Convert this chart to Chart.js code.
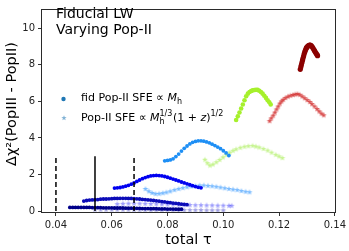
<!DOCTYPE html>
<html><head><meta charset="utf-8">
<script src="https://cdn.jsdelivr.net/npm/chart.js@4/dist/chart.umd.min.js"></script>
<style>html,body{margin:0;padding:0;background:#fff;}</style>
</head><body>
<canvas id="c" width="349" height="251"></canvas>
<script>
// ---- data ----
const xTicks = [0.04, 0.06, 0.08, 0.10, 0.12, 0.14];
const yTicks = [0, 2, 4, 6, 8, 10];
const tauRefLines = [0.040, 0.054, 0.068];
const refLineTop = 3;

// fiducial Pop-II SFE (circles)
const tauC1 = [0.045,0.046,0.047,0.048,0.049,0.050,0.051,0.052,0.053,0.054,0.055,0.056,0.057,0.058,0.059,0.060,0.061,0.062,0.063,0.064,0.065,0.066,0.067,0.068,0.069,0.070,0.071,0.072,0.073,0.074,0.075,0.076,0.077,0.078,0.079,0.080,0.081,0.082,0.083,0.084,0.085];
const chiC1 = [0.20,0.20,0.20,0.20,0.20,0.20,0.20,0.20,0.19,0.19,0.19,0.19,0.18,0.18,0.18,0.18,0.17,0.17,0.17,0.17,0.16,0.16,0.16,0.15,0.15,0.15,0.14,0.14,0.14,0.13,0.13,0.13,0.12,0.12,0.12,0.11,0.11,0.11,0.10,0.10,0.10];
const tauC2 = [0.050,0.051,0.052,0.053,0.054,0.055,0.056,0.057,0.058,0.059,0.060,0.061,0.062,0.063,0.064,0.065,0.066,0.067,0.068,0.069,0.070,0.071,0.072,0.073,0.074,0.075,0.076,0.077,0.078,0.079,0.080,0.081,0.082,0.083,0.084,0.085,0.086,0.087];
const chiC2 = [0.55,0.58,0.60,0.61,0.62,0.63,0.65,0.66,0.66,0.67,0.68,0.69,0.69,0.70,0.70,0.70,0.69,0.69,0.68,0.67,0.66,0.64,0.63,0.61,0.60,0.58,0.56,0.54,0.52,0.50,0.48,0.46,0.44,0.42,0.40,0.38,0.37,0.35];
const tauC3 = [0.061,0.062,0.063,0.064,0.065,0.066,0.067,0.068,0.069,0.070,0.071,0.072,0.073,0.074,0.075,0.076,0.077,0.078,0.079,0.080,0.081,0.082,0.083,0.084,0.085,0.086,0.087,0.088,0.089,0.090,0.091,0.092];
const chiC3 = [1.26,1.27,1.29,1.32,1.36,1.41,1.47,1.54,1.62,1.70,1.77,1.83,1.88,1.92,1.94,1.95,1.94,1.92,1.89,1.85,1.80,1.75,1.70,1.65,1.59,1.54,1.49,1.44,1.39,1.34,1.30,1.27];
const tauC4 = [0.079,0.080,0.081,0.082,0.083,0.084,0.085,0.086,0.087,0.088,0.089,0.090,0.091,0.092,0.093,0.094,0.095,0.096,0.097,0.098,0.099,0.100,0.101,0.102];
const chiC4 = [2.75,2.77,2.80,2.86,2.98,3.12,3.28,3.43,3.56,3.67,3.76,3.81,3.84,3.84,3.82,3.78,3.73,3.66,3.58,3.50,3.41,3.30,3.18,3.04];
const tauC5 = [0.1046,0.1052,0.1058,0.1064,0.1070,0.1076,0.1082,0.1088,0.1094,0.1100,0.1105,0.1111,0.1117,0.1123,0.1129,0.1135,0.1141,0.1147,0.1153,0.1159,0.1165,0.1170];
const chiC5 = [4.98,5.18,5.39,5.61,5.83,6.06,6.28,6.42,6.51,6.57,6.60,6.62,6.63,6.63,6.58,6.51,6.42,6.31,6.19,6.06,5.95,5.83];
const tauC6 = [0.1276,0.1278,0.1280,0.1282,0.1284,0.1286,0.1288,0.1290,0.1292,0.1294,0.1296,0.1298,0.1300,0.1303,0.1306,0.1309,0.1312,0.1315,0.1318,0.1321,0.1324,0.1327,0.1330,0.1333,0.1336,0.1338];
const chiC6 = [7.75,7.88,8.00,8.12,8.25,8.37,8.48,8.60,8.70,8.78,8.86,8.92,8.97,9.02,9.05,9.07,9.08,9.05,9.00,8.93,8.85,8.77,8.70,8.62,8.55,8.50];

// alternative Pop-II SFE (stars)
const tauS1 = [0.054,0.056,0.058,0.060,0.062,0.064,0.066,0.068,0.070,0.072,0.074,0.076,0.078,0.080,0.082,0.084,0.086,0.088,0.090,0.092,0.094,0.096,0.098,0.100];
const chiS1 = [0.07,0.07,0.07,0.07,0.07,0.07,0.07,0.06,0.06,0.06,0.06,0.06,0.06,0.06,0.05,0.05,0.05,0.05,0.05,0.05,0.04,0.04,0.04,0.04];
const tauS2 = [0.062,0.064,0.066,0.068,0.070,0.072,0.074,0.076,0.078,0.080,0.082,0.084,0.086,0.088,0.090,0.092,0.094,0.096,0.098,0.100,0.102,0.103];
const chiS2 = [0.38,0.40,0.41,0.41,0.41,0.40,0.39,0.38,0.37,0.36,0.35,0.34,0.33,0.33,0.32,0.32,0.31,0.31,0.30,0.30,0.29,0.29];
const tauS3 = [0.0721,0.0733,0.0745,0.0757,0.0770,0.0783,0.0796,0.0810,0.0825,0.0840,0.0855,0.0870,0.0885,0.0900,0.0915,0.0930,0.0945,0.0960,0.0975,0.0990,0.1005,0.1020,0.1035,0.1050,0.1065,0.1080,0.1094];
const chiS3 = [1.21,1.08,0.99,0.94,0.95,0.98,1.02,1.08,1.15,1.21,1.26,1.31,1.35,1.38,1.40,1.40,1.38,1.36,1.33,1.29,1.25,1.21,1.18,1.15,1.10,1.06,1.03];
const tauS4 = [0.0934,0.0943,0.0952,0.0963,0.0975,0.0987,0.0999,0.1011,0.1023,0.1035,0.1046,0.1061,0.1076,0.1090,0.1105,0.1117,0.1129,0.1144,0.1159,0.1173,0.1188,0.1200,0.1212];
const chiS4 = [2.81,2.62,2.49,2.55,2.67,2.80,2.94,3.08,3.20,3.30,3.38,3.46,3.52,3.55,3.57,3.53,3.48,3.40,3.31,3.20,3.08,2.99,2.90];
const tauS5 = [0.1166,0.1172,0.1179,0.1185,0.1191,0.1197,0.1203,0.1209,0.1215,0.1223,0.1232,0.1241,0.1250,0.1258,0.1266,0.1274,0.1283,0.1292,0.1301,0.1310,0.1318,0.1327,0.1336,0.1344,0.1352,0.1360];
const chiS5 = [4.92,5.07,5.22,5.39,5.56,5.72,5.88,6.00,6.09,6.19,6.26,6.31,6.35,6.38,6.40,6.36,6.27,6.17,6.07,5.97,5.85,5.72,5.58,5.45,5.33,5.24];

// ---- styling ----
const circleColors = ['#00008a','#0c0cb8','#0000f0','#1e8ff5','#a6f02c','#8b0000'];
const starColors = ['rgba(40,40,190,0.45)','rgba(60,60,250,0.5)','rgba(80,165,255,0.75)','rgba(180,240,110,0.75)','rgba(210,45,45,0.8)'];

function starImg(color, R) {
  const s = Math.ceil(R*2)+2;
  const cv = document.createElement('canvas');
  cv.width = s; cv.height = s;
  const g = cv.getContext('2d');
  g.fillStyle = color;
  g.beginPath();
  for (let i=0;i<10;i++){
    const r = i%2===0 ? R : R*0.42;
    const a = -Math.PI/2 + i*Math.PI/5;
    const px = s/2 + r*Math.cos(a), py = s/2 + r*Math.sin(a);
    if(i===0) g.moveTo(px,py); else g.lineTo(px,py);
  }
  g.closePath(); g.fill();
  return cv;
}

function pts(t, c){ return t.map((v,i)=>({x:v, y:c[i]})); }

const circleSets = [[tauC1,chiC1],[tauC2,chiC2],[tauC3,chiC3],[tauC4,chiC4],[tauC5,chiC5],[tauC6,chiC6]];
const starSets = [[tauS1,chiS1],[tauS2,chiS2],[tauS3,chiS3],[tauS4,chiS4],[tauS5,chiS5]];

const datasets = [];
starSets.forEach((s,i)=>{
  datasets.push({type:'scatter', data:pts(s[0],s[1]), pointStyle:starImg(starColors[i],3), pointRadius:3, order:20-i});
});
circleSets.forEach((s,i)=>{
  const big = i>=4;
  datasets.push({type:'scatter', data:pts(s[0],s[1]), backgroundColor:circleColors[i], borderWidth:0,
    pointRadius: i===5 ? 2.6 : (big ? 2.3 : 1.9), order:10-i});
});
tauRefLines.forEach((t,i)=>{
  datasets.push({type:'line', data:[{x:t,y:0},{x:t,y:refLineTop}], borderColor:'#000', borderWidth:1.5,
    borderDash: i===1 ? [] : [5,3], pointRadius:0, fill:false, order:0});
});

const fam = '"DejaVu Sans", sans-serif';

const deco = {
  id:'deco',
  afterDraw(chart){
    const ctx = chart.ctx, a = chart.chartArea;
    ctx.save();
    // frame
    ctx.strokeStyle = '#2a2a2a'; ctx.lineWidth = 1;
    ctx.strokeRect(Math.round(a.left)-0.5, Math.round(a.top)+0.5, Math.round(a.right-a.left)+1, Math.round(a.bottom-a.top));
    ctx.fillStyle = '#000';
    ctx.textBaseline = 'alphabetic'; ctx.textAlign = 'left';
    // title texts
    ctx.font = '14px '+fam;
    ctx.fillText('Fiducial LW', 56, 17.5);
    ctx.fillText('Varying Pop-II', 56, 33.5);
    // legend markers
    ctx.fillStyle = '#1f77b4';
    ctx.beginPath(); ctx.arc(63.5, 99, 2.2, 0, Math.PI*2); ctx.fill();
    ctx.drawImage(starImg('rgba(31,119,180,0.55)',2.8), 63.5-3.5, 117.5-3.5);
    // legend text row 1
    ctx.fillStyle = '#000';
    let x = 81, y = 101;
    ctx.font = '11px '+fam;
    const t1 = 'fid Pop-II SFE \u221D ';
    ctx.fillText(t1, x, y); x += ctx.measureText(t1).width;
    ctx.font = 'italic 11px '+fam;
    ctx.fillText('M', x, y); x += ctx.measureText('M').width;
    ctx.font = '8px '+fam;
    ctx.fillText('h', x, y+2.5);
    // legend text row 2
    x = 81; y = 121;
    ctx.font = '11px '+fam;
    const t2 = 'Pop-II SFE \u221D ';
    ctx.fillText(t2, x, y); x += ctx.measureText(t2).width;
    ctx.font = 'italic 11px '+fam;
    ctx.fillText('M', x, y); x += ctx.measureText('M').width;
    ctx.font = '8px '+fam;
    ctx.fillText('1/3', x, y-5); ctx.fillText('h', x, y+2.5);
    x += ctx.measureText('1/3').width + 0.5;
    ctx.font = '11px '+fam;
    ctx.fillText('(1 + ', x, y); x += ctx.measureText('(1 + ').width;
    ctx.font = 'italic 11px '+fam;
    ctx.fillText('z', x, y); x += ctx.measureText('z').width;
    ctx.font = '11px '+fam;
    ctx.fillText(')', x, y); x += ctx.measureText(')').width;
    ctx.font = '8px '+fam;
    ctx.fillText('1/2', x, y-5);
    // axis titles
    ctx.font = '14.5px '+fam;
    ctx.textAlign = 'center'; ctx.textBaseline = 'middle';
    ctx.fillText('total \u03C4', (a.left+a.right)/2, 240);
    ctx.save();
    ctx.translate(12, 104);
    ctx.rotate(-Math.PI/2);
    ctx.fillText('\u0394\u03C7\u00B2(PopIII - PopII)', 0, 0);
    ctx.restore();
    ctx.restore();
  }
};

new Chart(document.getElementById('c'), {
  data:{datasets},
  options:{
    responsive:false, animation:false, devicePixelRatio:1,
    layout:{padding:{left:0,right:11,top:4,bottom:0}},
    plugins:{legend:{display:false}, tooltip:{enabled:false}},
    scales:{
      x:{type:'linear', min:0.035, max:0.14,
        afterFit(s){ s.height = 39; },
        afterBuildTicks(s){ s.ticks = xTicks.map(v=>({value:v})); },
        ticks:{font:{family:fam,size:10}, color:'#222', padding:3, maxRotation:0, autoSkip:false,
          callback:v=>Number(v).toFixed(2)},
        grid:{drawOnChartArea:false, drawTicks:true, tickLength:4, color:'#333'},
        border:{display:false}},
      y:{type:'linear', min:-0.05, max:11.05,
        afterFit(s){ s.width = 42; },
        afterBuildTicks(s){ s.ticks = yTicks.map(v=>({value:v})); },
        ticks:{font:{family:fam,size:10}, color:'#222', padding:3, autoSkip:false,
          callback:v=>String(v)},
        grid:{drawOnChartArea:false, drawTicks:true, tickLength:4, color:'#333'},
        border:{display:false}}
    }
  },
  plugins:[deco]
});
</script>
</body></html>
